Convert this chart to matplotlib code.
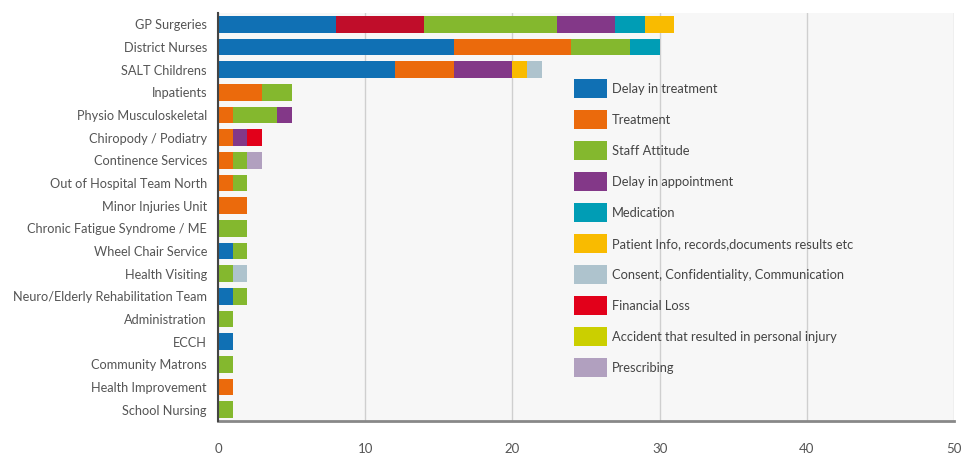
import numpy as np
import matplotlib.pyplot as plt

plt.rcParams['font.family'] = ['Lato', 'DejaVu Sans']

services = ["GP Surgeries", "District Nurses", "SALT Childrens", "Inpatients",
            "Physio Musculoskeletal", "Chiropody / Podiatry", "Continence Services",
            "Out of Hospital Team North", "Minor Injuries Unit",
            "Chronic Fatigue Syndrome / ME", "Wheel Chair Service", "Health Visiting",
            "Neuro/Elderly Rehabilitation Team", "Administration", "ECCH",
            "Community Matrons", "Health Improvement", "School Nursing"]

delay_in_treatment = [8, 16, 12, 0, 0, 0, 0, 0, 0, 0, 1, 0, 1, 0, 1, 0, 0, 0]
unlisted = [6, 0, 0, 0, 0, 0, 0, 0, 0, 0, 0, 0, 0, 0, 0, 0, 0, 0]
treatment = [0, 8, 4, 3, 1, 1, 1, 1, 2, 0, 0, 0, 0, 0, 0, 0, 1, 0]
staff_attitude = [9, 4, 0, 2, 3, 0, 1, 1, 0, 2, 1, 1, 1, 1, 0, 1, 0, 1]
delay_in_appointment = [4, 0, 4, 0, 1, 1, 0, 0, 0, 0, 0, 0, 0, 0, 0, 0, 0, 0]
medication = [2, 2, 0, 0, 0, 0, 0, 0, 0, 0, 0, 0, 0, 0, 0, 0, 0, 0]
patient_info = [2, 0, 1, 0, 0, 0, 0, 0, 0, 0, 0, 0, 0, 0, 0, 0, 0, 0]
consent = [0, 0, 1, 0, 0, 0, 0, 0, 0, 0, 0, 1, 0, 0, 0, 0, 0, 0]
financial_loss = [0, 0, 0, 0, 0, 1, 0, 0, 0, 0, 0, 0, 0, 0, 0, 0, 0, 0]
accident = [0] * 18
prescribing = [0, 0, 0, 0, 0, 0, 1, 0, 0, 0, 0, 0, 0, 0, 0, 0, 0, 0]

# (values, legend label, colour) in stacking order
series = [
    (delay_in_treatment, "Delay in treatment", "#1070B4"),
    (unlisted, "_unlisted", "#C00D2A"),
    (treatment, "Treatment", "#EB6A0C"),
    (staff_attitude, "Staff Attitude", "#84B82E"),
    (delay_in_appointment, "Delay in appointment", "#833888"),
    (medication, "Medication", "#009DB5"),
    (patient_info, "Patient Info, records,documents results etc", "#F9BB00"),
    (consent, "Consent, Confidentiality, Communication", "#AEC3CD"),
    (financial_loss, "Financial Loss", "#E2001A"),
    (accident, "Accident that resulted in personal injury", "#CBCF00"),
    (prescribing, "Prescribing", "#B1A0BF"),
]

fig = plt.figure(figsize=(9.62, 4.53), dpi=100)
ax = fig.add_axes([218 / 962, 1 - 421 / 453, (954 - 218) / 962, (421 - 13) / 453])
ax.set_facecolor("#F7F7F7")

y = np.arange(len(services))
left = np.zeros(len(services))
for vals, label, color in series:
    vals = np.array(vals, dtype=float)
    ax.barh(y, vals, left=left, height=0.74, color=color, label=label, zorder=3)
    left += vals

ax.set_xlim(0, 50)
ax.set_ylim(len(services) - 0.5, -0.5)
ax.set_xticks([0, 10, 20, 30, 40, 50])
ax.set_yticks(y)
ax.set_yticklabels(services, fontsize=9.2)
ax.xaxis.grid(True, color="#CFCFCF", linewidth=1, zorder=0)
ax.tick_params(axis="both", length=0, colors="#555555")
ax.tick_params(axis="x", pad=15.5, labelsize=9.5)
ax.tick_params(axis="y", pad=8)

for s in ["top", "right"]:
    ax.spines[s].set_visible(False)
ax.spines["left"].set_color("#444444")
ax.spines["left"].set_linewidth(1.5)
ax.spines["bottom"].set_color("#888888")
ax.spines["bottom"].set_linewidth(2)
ax.spines["left"].set_zorder(4)

leg = ax.legend(loc="upper left", bbox_to_anchor=(574 / 962, 1 - 79 / 453),
                bbox_transform=fig.transFigure, frameon=False, fontsize=9.3,
                handlelength=2.55, handleheight=1.9, labelspacing=0.92,
                handletextpad=0.4, borderpad=0, borderaxespad=0)
for t in leg.get_texts():
    t.set_color("#444444")

fig.savefig("out.png", dpi=100, facecolor="white")
